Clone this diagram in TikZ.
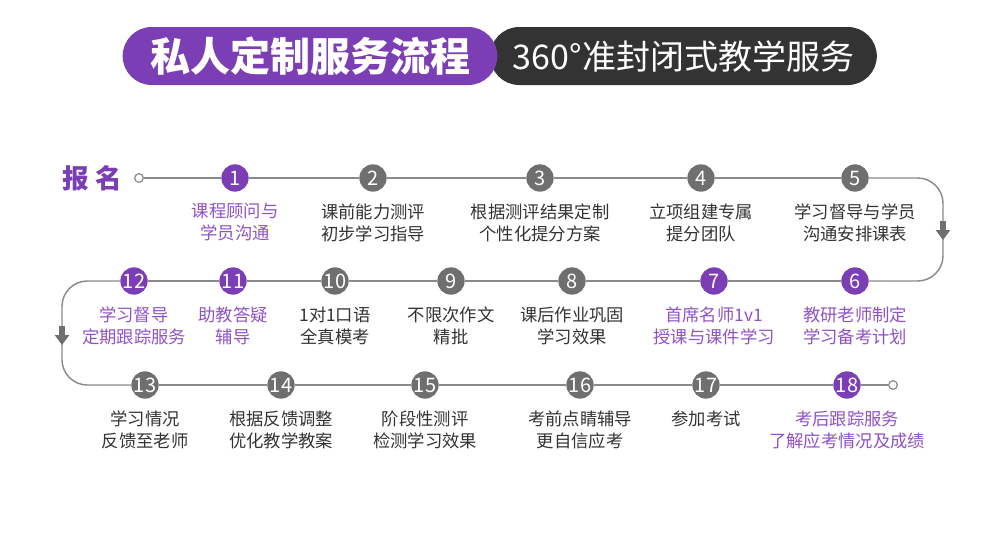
\documentclass[tikz,border=0pt]{standalone}
\usepackage{fontspec}
\setmainfont{Noto Sans CJK SC}
\usepackage{tikz}
\usetikzlibrary{positioning,shapes.misc}
\definecolor{vio}{HTML}{7B3EB4}
\definecolor{viotext}{HTML}{8E52C5}
\definecolor{stepgray}{HTML}{6F6F6F}
\definecolor{linegray}{HTML}{8A8A8A}
\definecolor{ink}{HTML}{333333}
\definecolor{bannerdark}{HTML}{333333}
\tikzset{
  stepnum/.style={circle, fill=stepgray, text=white, minimum size=20.5pt, inner sep=0pt, font=\fontsize{15}{15}\selectfont},
  hot/.style={stepnum, fill=vio},
  desc/.style={text=ink, align=center, inner sep=0pt, font=\fontsize{13}{16.5}\selectfont},
  hotdesc/.style={desc, text=viotext},
  endpt/.style={circle, draw=linegray, fill=white, line width=0.9pt, minimum size=6.5pt, inner sep=0pt},
  conn/.style={draw=linegray, line width=1.1pt},
  turn/.style={conn, rounded corners=19pt},
  pill/.style={rounded rectangle, minimum height=43.5pt, inner sep=0pt, text=white},
  downtip/.style={fill=stepgray},
}
% small arrow sitting on the vertical bends
\newcommand{\downmarker}[1]{%
  \fill[downtip] ([xshift=-2.6pt,yshift=6.5pt]#1) rectangle ([xshift=2.6pt]#1);
  \fill[downtip] ([xshift=-5.5pt]#1) -- ([xshift=5.5pt]#1) -- ([yshift=-7.5pt]#1) -- cycle;
}

\begin{document}
\begin{tikzpicture}[x=0.75pt, y=-0.75pt]
    \useasboundingbox (0,0) rectangle (1000,550);

    % title banner
    \node[pill, fill=bannerdark, minimum width=290pt, font=\fontsize{25.5}{25.5}\selectfont] (subtitle) at (683.5,56) {360°准封闭式教学服务};
    \node[pill, fill=vio, minimum width=281pt, font=\fontsize{30}{30}\selectfont\bfseries] (title) at (310,56) {私人定制服务流程};

    % row 1
    \node[text=vio, font=\fontsize{20}{20}\selectfont\bfseries, inner sep=0pt] (signup) at (92,178) {报\hspace{4.5pt}名};
    \node[endpt] (s0) at (139,178) {};
    \node[hot] (s1) at (235,178) {1};
    \node[stepnum] (s2) at (373,178) {2};
    \node[stepnum] (s3) at (540,178) {3};
    \node[stepnum] (s4) at (701,178) {4};
    \node[stepnum] (s5) at (855,178) {5};
    \coordinate (rbend) at (943,230);

    % row 2
    \node[hot] (s6) at (855,281) {6};
    \node[hot] (s7) at (714,281) {7};
    \node[stepnum] (s8) at (572,281) {8};
    \node[stepnum] (s9) at (451,281) {9};
    \node[stepnum] (s10) at (335,281) {10};
    \node[hot] (s11) at (233,281) {11};
    \node[hot] (s12) at (134,281) {12};
    \coordinate (lbend) at (62,335);

    % row 3
    \node[stepnum] (s13) at (145,385) {13};
    \node[stepnum] (s14) at (281,385) {14};
    \node[stepnum] (s15) at (425,385) {15};
    \node[stepnum] (s16) at (580,385) {16};
    \node[stepnum] (s17) at (706,385) {17};
    \node[hot] (s18) at (847,385) {18};
    \node[endpt] (s19) at (893,385) {};

    % descriptions
    \node[hotdesc, below=8.5pt of s1] (t1) {课程顾问与\\学员沟通};
    \node[desc, below=8.5pt of s2] (t2) {课前能力测评\\初步学习指导};
    \node[desc, below=8.5pt of s3] (t3) {根据测评结果定制\\个性化提分方案};
    \node[desc, below=8.5pt of s4] (t4) {立项组建专属\\提分团队};
    \node[desc, below=8.5pt of s5] (t5) {学习督导与学员\\沟通安排课表};
    \node[hotdesc, below=8.5pt of s6] (t6) {教研老师制定\\学习备考计划};
    \node[hotdesc, below=8.5pt of s7] (t7) {首席名师1v1\\授课与课件学习};
    \node[desc, below=8.5pt of s8] (t8) {课后作业巩固\\学习效果};
    \node[desc, below=8.5pt of s9] (t9) {不限次作文\\精批};
    \node[desc, below=8.5pt of s10] (t10) {1对1口语\\全真模考};
    \node[hotdesc, below=8.5pt of s11] (t11) {助教答疑\\辅导};
    \node[hotdesc, below=8.5pt of s12] (t12) {学习督导\\定期跟踪服务};
    \node[desc, below=8.5pt of s13] (t13) {学习情况\\反馈至老师};
    \node[desc, below=8.5pt of s14] (t14) {根据反馈调整\\优化教学教案};
    \node[desc, below=8.5pt of s15] (t15) {阶段性测评\\检测学习效果};
    \node[desc, below=8.5pt of s16] (t16) {考前点睛辅导\\更自信应考};
    \node[desc, below=8.5pt of s17] (t17) {参加考试};
    \node[hotdesc, below=8.5pt of s18] (t18) {考后跟踪服务\\了解应考情况及成绩};

    % the path
    \draw[conn] (s0) -- (s1) -- (s2) -- (s3) -- (s4) -- (s5);
    \draw[turn] (s5) -| (rbend) |- (s6);
    \draw[conn] (s6) -- (s7) -- (s8) -- (s9) -- (s10) -- (s11) -- (s12);
    \draw[turn] (s12) -| (lbend) |- (s13);
    \draw[conn] (s13) -- (s14) -- (s15) -- (s16) -- (s17) -- (s18) -- (s19);
    \downmarker{rbend}
    \downmarker{lbend}

\end{tikzpicture}
\end{document}
